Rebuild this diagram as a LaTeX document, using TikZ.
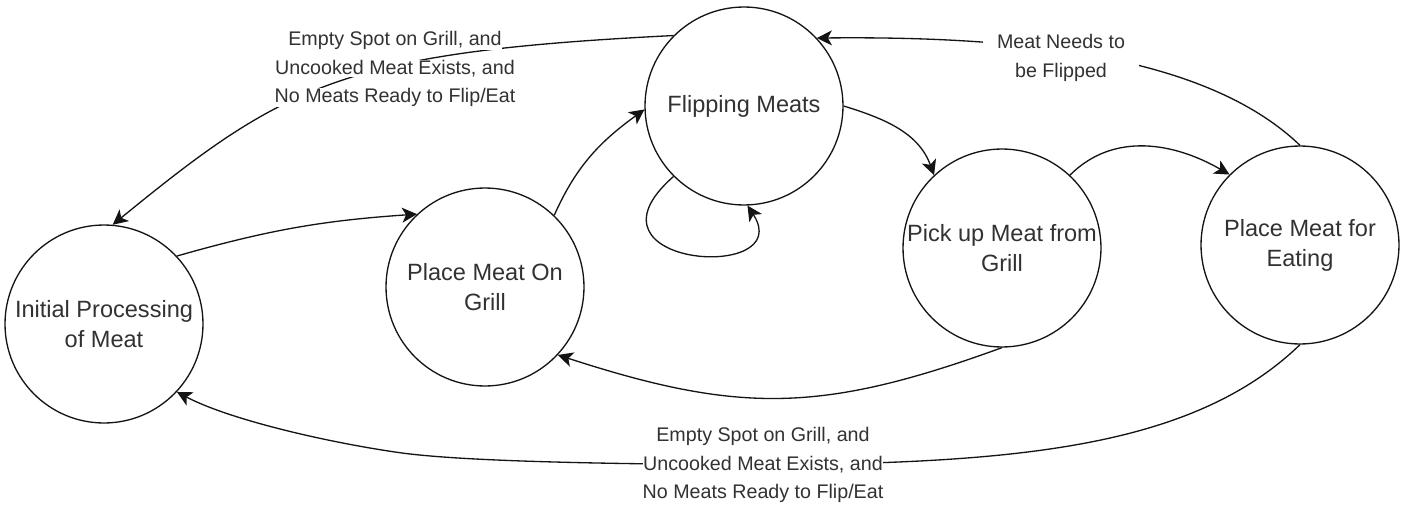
\documentclass[tikz,border=0pt]{standalone}
\usepackage{fontspec}
\setmainfont{Liberation Sans}
\usepackage{xcolor}
\usepackage{tikz}
\usetikzlibrary{arrows.meta}
\definecolor{mydark}{RGB}{20,20,20}
\definecolor{mytext}{RGB}{50,50,50}
\setlength{\fboxsep}{0pt}
\newcommand{\bgline}[1]{\colorbox{white}{#1}}
\tikzset{
  statenode/.style={circle, draw=mydark, fill=white, minimum size=3.96cm,
    inner sep=-0.3cm, align=center, text=mytext, line width=0.75pt,
    font=\fontsize{13.4}{17}\selectfont},
  condlabel/.style={align=center, inner sep=0pt, text=mytext,
    font=\fontsize{11.2}{16.2}\selectfont},
  arrow/.style={-{Stealth[length=0.3cm, width=0.3cm, inset=0.08cm]},
    line width=0.75pt, color=mydark}
}

\begin{document}
\begin{tikzpicture}[x=0.02cm, y=0.02cm]
  \useasboundingbox (0,0) rectangle (1407,505);
  \fill[white] (0,0) rectangle (1407,505);

  % ── States ──────────────────────────────────────────────────────────────
  \node[statenode] (init)  at (104,181)  {Initial Processing\\of Meat};
  \node[statenode] (grill) at (485,218)  {Place Meat On\\Grill};
  \node[statenode] (flip)  at (744,399)  {Flipping Meats};
  \node[statenode] (pick)  at (1002,257) {Pick up Meat from\\Grill};
  \node[statenode] (eat)   at (1300,260) {Place Meat for\\Eating};

  % ── Label anchors ───────────────────────────────────────────────────────
  \coordinate (topmid)  at (395,436);
  \coordinate (botmid)  at (763,40);
  \coordinate (botturn) at (402,52);
  \coordinate (flipmid) at (1061,447);

  % ── Forward path ────────────────────────────────────────────────────────
  \draw[arrow] (init.43)  to[bend left=6] (grill.133);
  \draw[arrow] (grill.46) to[out=66, in=216] (flip.182);
  \draw[arrow] (flip.225) .. controls (570,238) and (798,222) .. (flip.272);
  \draw[arrow] (flip.0)   to[out=-17, in=110] (pick.133);
  \draw[arrow] (pick.47)  to[out=45, in=150] (eat.135);

  % ── Return paths ────────────────────────────────────────────────────────
  \draw[arrow] (pick.south) to[out=200, in=-18, looseness=1.1] (grill.317);
  \draw[arrow] (eat.north) .. controls (1206,450) and (1020,469) .. (flip.43);
  \draw[arrow] (flip.135) .. controls (343,453) and (285,421) .. (init.85);
  \draw[arrow] (eat.south) .. controls (1192,56) and (1013,42) .. (botmid)
    .. controls (620,41) and (470,43) .. (botturn)
    .. controls (330,62) and (230,85) .. (init.317);

  % ── Condition labels ────────────────────────────────────────────────────
  \node[condlabel] (condtop) at (topmid)
    {\bgline{Empty Spot on Grill, and}\\\bgline{Uncooked Meat Exists, and}\\\bgline{No Meats Ready to Flip/Eat}};
  \node[condlabel] (condbot) at (botmid)
    {\bgline{Empty Spot on Grill, and}\\\bgline{Uncooked Meat Exists, and}\\\bgline{No Meats Ready to Flip/Eat}};
  \node[condlabel, fill=white, inner xsep=0.28cm, inner ysep=0.06cm] (condflip)
    at (flipmid) {Meat Needs to\\be Flipped};
\end{tikzpicture}
\end{document}
